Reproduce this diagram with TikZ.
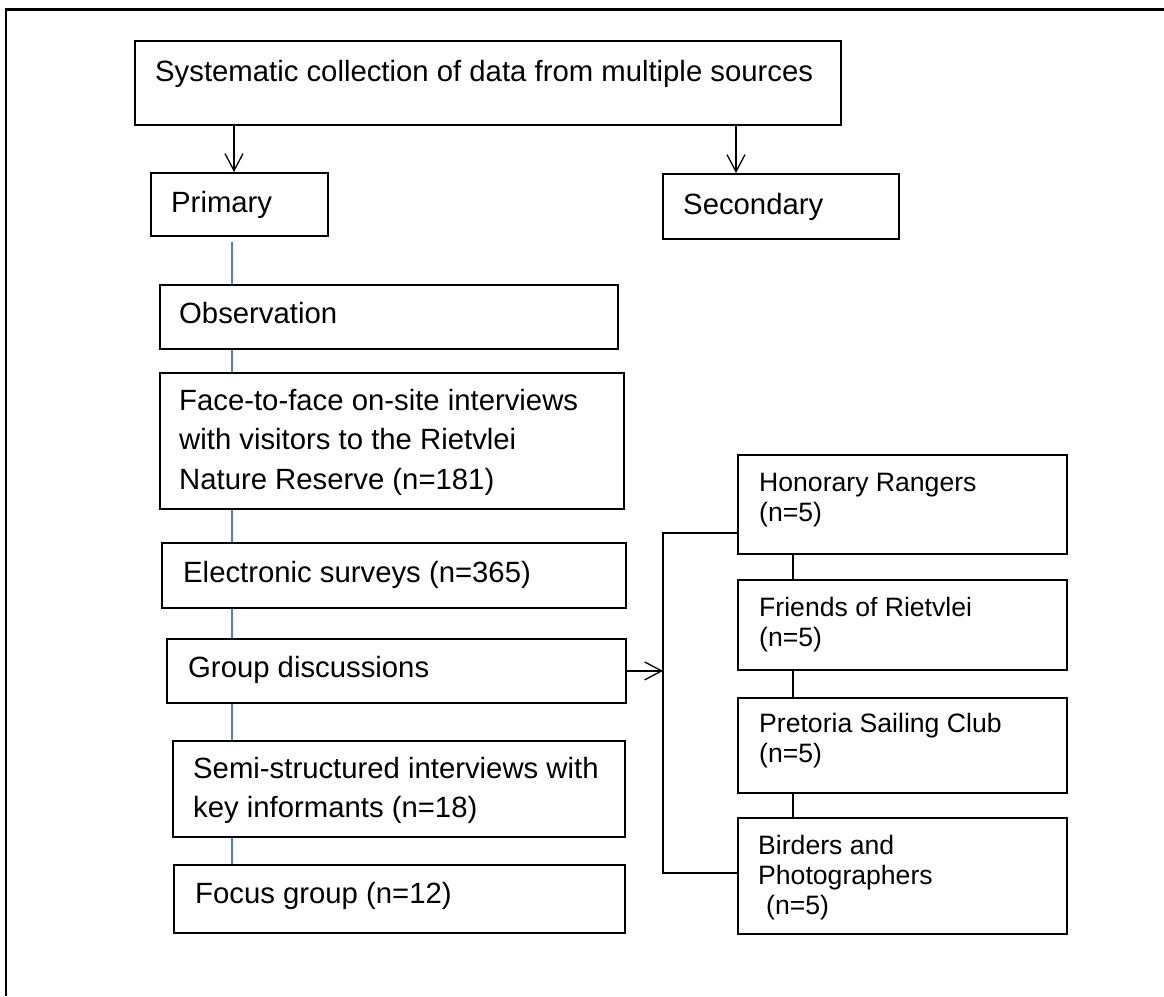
\documentclass[tikz,border=0pt]{standalone}
\usepackage{fontspec}
\setmainfont{Liberation Sans}
\usetikzlibrary{arrows.meta}
\definecolor{linkblue}{RGB}{79,129,189}
\begin{document}
\begin{tikzpicture}[x=1pt,y=-1pt,
  box/.style={draw=black, line width=1.8pt, inner sep=0pt, anchor=north west},
  ltxt/.style={inner sep=0pt, align=left, font=\fontsize{29.3}{39.5}\selectfont},
  rtxt/.style={inner sep=0pt, align=left, font=\fontsize{26.6}{30}\selectfont},
  arr/.style={line width=1.3pt, -{Straight Barb[length=17pt,width=18pt]}},
  blueline/.style={draw=linkblue, line width=1.4pt},
  conn/.style={draw=black, line width=1.6pt}]
\useasboundingbox (0,0) rectangle (1164,996);

% outer frame
\draw[line width=2.5pt] (6,996) -- (6,9.5) -- (1164,9.5);

% column guides
\coordinate (ax) at (234,0);
\coordinate (bx) at (736,0);
\coordinate (lx) at (232,0);
\coordinate (rx) at (793,0);
\coordinate (br1) at (663,533);
\coordinate (br2) at (663,873);

% boxes
\node[box, minimum width=706pt, minimum height=84pt]  (top)  at (134,40) {};
\node[box, minimum width=177pt, minimum height=63pt]  (prim) at (150,172) {};
\node[box, minimum width=236pt, minimum height=65pt]  (sec)  at (662,173) {};
\node[box, minimum width=458pt, minimum height=64pt]  (obs)  at (159,284) {};
\node[box, minimum width=464pt, minimum height=136pt] (face) at (159,372) {};
\node[box, minimum width=464pt, minimum height=65pt]  (elec) at (161,542) {};
\node[box, minimum width=459pt, minimum height=64pt]  (grp)  at (166,638) {};
\node[box, minimum width=452pt, minimum height=96pt]  (semi) at (172,740) {};
\node[box, minimum width=451pt, minimum height=68pt]  (foc)  at (173,864) {};
\node[box, minimum width=329pt, minimum height=99pt]  (hon)  at (737,454) {};
\node[box, minimum width=329pt, minimum height=90pt]  (fri)  at (737,579) {};
\node[box, minimum width=329pt, minimum height=95pt]  (pre)  at (737,697) {};
\node[box, minimum width=329pt, minimum height=116pt] (bird) at (737,817) {};

% texts
\node[ltxt, anchor=base west] (topT)  at (155,81.5)  {Systematic collection of data from multiple sources};
\node[ltxt, anchor=base west] (primT) at (171,212.5) {Primary};
\node[ltxt, anchor=base west] (secT)  at (683,214.5) {Secondary};
\node[ltxt, anchor=base west] (obsT)  at (179,323.5) {Observation};
\node[ltxt, anchor=north west] (faceT) at (179,389) {Face-to-face on-site interviews\\with visitors to the Rietvlei\\Nature Reserve (n=181)};
\node[ltxt, anchor=base west] (elecT) at (183,582.5) {Electronic surveys (n=365)};
\node[ltxt, anchor=base west] (grpT)  at (188,677.5) {Group discussions};
\node[ltxt, anchor=north west] (semiT) at (193,757) {Semi-structured interviews with\\key informants (n=18)};
\node[ltxt, anchor=base west] (focT)  at (195,903.5) {Focus group (n=12)};
\node[rtxt, anchor=north west] (honT)  at (759,473) {Honorary Rangers\\(n=5)};
\node[rtxt, anchor=north west] (friT)  at (759,597) {Friends of Rietvlei\\(n=5)};
\node[rtxt, anchor=north west] (preT)  at (759,713) {Pretoria Sailing Club\\(n=5)};
\node[rtxt, anchor=north west] (birdT) at (758,835) {Birders and\\Photographers\\\hspace*{8pt}(n=5)};

% arrows from the top box
\draw[arr] (top.south -| ax) -- (prim.north -| ax);
\draw[arr] (top.south -| bx) -- (sec.north -| bx);

% primary chain
\draw[blueline] ([yshift=-5pt]prim.south -| lx) -- (obs.north -| lx);
\draw[blueline] (obs.south -| lx) -- (face.north -| lx);
\draw[blueline] (face.south -| lx) -- (elec.north -| lx);
\draw[blueline] (elec.south -| lx) -- (grp.north -| lx);
\draw[blueline] (grp.south -| lx) -- (semi.north -| lx);
\draw[blueline] (semi.south -| lx) -- (foc.north -| lx);

% group discussions branch
\draw[arr] (grp.east) -- (grp.east -| br1);
\draw[conn] (hon.west |- br1) -- (br1) -- (br2) -- (bird.west |- br2);
\draw[conn] (hon.south -| rx) -- (fri.north -| rx);
\draw[conn] (fri.south -| rx) -- (pre.north -| rx);
\draw[conn] (pre.south -| rx) -- (bird.north -| rx);
\end{tikzpicture}
\end{document}
